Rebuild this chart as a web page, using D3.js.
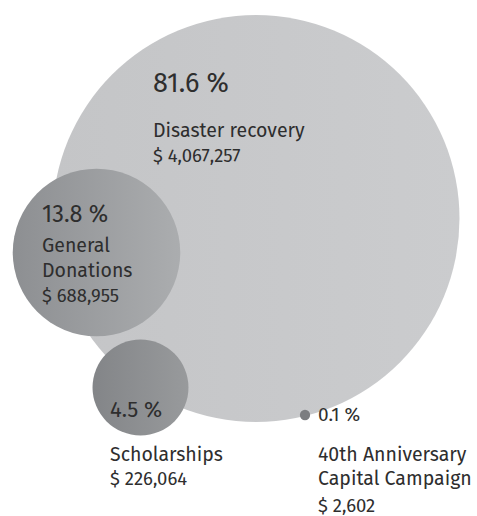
<!DOCTYPE html>
<html>
<head>
<meta charset="utf-8">
<script src="https://cdn.jsdelivr.net/npm/d3@7"></script>
<style>
  html, body { margin: 0; padding: 0; background: #fff; }
  svg text { font-family: "Fira Sans", "Noto Sans", sans-serif; fill: #2e2e2e; }
</style>
</head>
<body>
<div id="chart"></div>
<script>
// data
const categories = ["Disaster recovery", "General Donations", "Scholarships", "40th Anniversary Capital Campaign"];
const amounts = [4067257, 688955, 226064, 2602];
const percents = ["81.6 %", "13.8 %", "4.5 %", "0.1 %"];
const amountLabels = ["$ 4,067,257", "$ 688,955", "$ 226,064", "$ 2,602"];

const width = 477, height = 516;

const svg = d3.select("#chart")
              .append("svg")
              .attr("width", width)
              .attr("height", height);

// bubble area ~ amount
const r = d3.scaleSqrt()
            .domain([0, d3.max(amounts)])
            .range([0, 203.5]);

// where each bubble sits
const centers = [[256, 218.5], [96.5, 252.5], [140.5, 387.5], [305, 415]];

const grads = [
  ["#c4c5c7", "#cbccce"],
  ["#8d8f92", "#abadaf"],
  ["#838588", "#989a9c"],
  ["#7c7d80", "#7c7d80"]
];

const defs = svg.append("defs");
grads.forEach((g, i) => {
  const lg = defs.append("linearGradient")
                 .attr("id", "g" + i)
                 .attr("x1", "0%").attr("x2", "100%")
                 .attr("y1", "0%").attr("y2", "0%");
  lg.append("stop").attr("offset", "0%").attr("stop-color", g[0]);
  lg.append("stop").attr("offset", "100%").attr("stop-color", g[1]);
});

svg.append("g")
   .selectAll("circle")
   .data(amounts)
   .join("circle")
   .attr("cx", (d, i) => centers[i][0])
   .attr("cy", (d, i) => centers[i][1])
   .attr("r", d => r(d))
   .attr("fill", (d, i) => `url(#g${i})`);

// labels
const labels = [
  {x: 153, lines: [
    {t: percents[0], y: 92, s: 27},
    {t: categories[0], y: 137, s: 19.5},
    {t: amountLabels[0], y: 162, s: 18.5}]},
  {x: 42, lines: [
    {t: percents[1], y: 222, s: 23.5},
    {t: "General", y: 252, s: 19.5},
    {t: "Donations", y: 277, s: 19.5},
    {t: amountLabels[1], y: 302, s: 18.5}]},
  {x: 110, lines: [
    {t: percents[2], y: 417, s: 22},
    {t: categories[2], y: 461, s: 19.5},
    {t: amountLabels[2], y: 485, s: 18.5}]},
  {x: 318, lines: [
    {t: percents[3], y: 421, s: 19},
    {t: "40th Anniversary", y: 461, s: 19.5},
    {t: "Capital Campaign", y: 485, s: 19.5},
    {t: amountLabels[3], y: 512, s: 18.5}]}
];

labels.forEach(l => {
  svg.append("g")
     .selectAll("text")
     .data(l.lines)
     .join("text")
     .attr("x", l.x)
     .attr("y", d => d.y)
     .style("font-size", d => d.s + "px")
     .text(d => d.t);
});
</script>
</body>
</html>
